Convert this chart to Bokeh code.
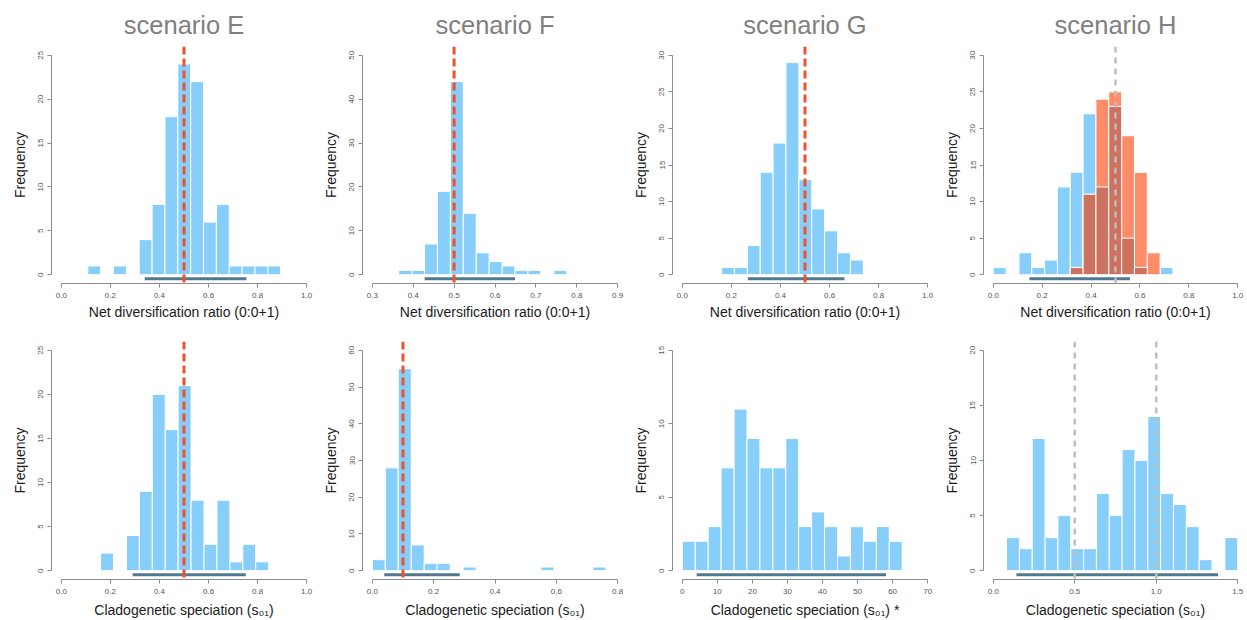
from bokeh.plotting import figure
from bokeh.layouts import gridplot
from bokeh.models import Range1d, FixedTicker, PrintfTickFormatter, Span
from bokeh.embed import file_html
from bokeh.resources import INLINE

# ---------------- data ----------------
scenarios = ["scenario E", "scenario F", "scenario G", "scenario H"]
xlabel_top = "Net diversification ratio (0:0+1)"
xlabel_bot = "Cladogenetic speciation (s\u2080\u2081)"
xlabel_bot_star = "Cladogenetic speciation (s\u2080\u2081) *"

# top row: net diversification ratio
E_top_start, E_top_width = 0.108, 0.0524
E_top_counts = [1, 0, 1, 0, 4, 8, 18, 24, 22, 6, 8, 1, 1, 1, 1]
E_top_truth = [0.5]
E_top_ci = [0.34, 0.754]

F_top_start, F_top_width = 0.3645, 0.0316
F_top_counts = [1, 1, 7, 19, 44, 14, 5, 3, 2, 1, 1, 0, 1]
F_top_truth = [0.5]
F_top_ci = [0.428, 0.649]

G_top_start, G_top_width = 0.160, 0.0525
G_top_counts = [1, 1, 4, 14, 18, 29, 13, 9, 6, 3, 2]
G_top_truth = [0.5]
G_top_ci = [0.267, 0.661]

H_top_start, H_top_width = 0.0, 0.0525
H_top_counts = [1, 0, 3, 1, 2, 12, 14, 22, 12, 23, 5, 1, 0, 1]
H_top_counts2 = [0, 0, 0, 0, 0, 0, 1, 11, 24, 25, 19, 14, 3, 0]
H_top_truth = [0.5]
H_top_ci = [0.148, 0.559]

# bottom row: cladogenetic speciation
E_bot_start, E_bot_width = 0.16, 0.0527
E_bot_counts = [2, 0, 4, 9, 20, 16, 21, 8, 3, 8, 1, 3, 1]
E_bot_truth = [0.5]
E_bot_ci = [0.291, 0.752]

F_bot_start, F_bot_width = 0.0, 0.0423
F_bot_counts = [3, 28, 55, 7, 2, 2, 0, 1, 0, 0, 0, 0, 0, 1, 0, 0, 0, 1]
F_bot_truth = [0.1]
F_bot_ci = [0.039, 0.285]

G_bot_start, G_bot_width = 0.0, 3.69
G_bot_counts = [2, 2, 3, 7, 11, 9, 7, 7, 9, 3, 4, 3, 1, 3, 2, 3, 2]
G_bot_truth = []
G_bot_ci = [4.1, 58.1]

H_bot_start, H_bot_width = 0.0814, 0.0788
H_bot_counts = [3, 2, 12, 3, 5, 2, 2, 7, 5, 11, 10, 14, 7, 6, 4, 1, 0, 3]
H_bot_truth = [0.5, 1.0]
H_bot_ci = [0.142, 1.38]

# axes
E_top_xticks = [0.0, 0.2, 0.4, 0.6, 0.8, 1.0]; E_top_yticks = [0, 5, 10, 15, 20, 25]
F_top_xticks = [0.3, 0.4, 0.5, 0.6, 0.7, 0.8, 0.9]; F_top_yticks = [0, 10, 20, 30, 40, 50]
G_top_xticks = [0.0, 0.2, 0.4, 0.6, 0.8, 1.0]; G_top_yticks = [0, 5, 10, 15, 20, 25, 30]
H_top_xticks = [0.0, 0.2, 0.4, 0.6, 0.8, 1.0]; H_top_yticks = [0, 5, 10, 15, 20, 25, 30]
E_bot_xticks = [0.0, 0.2, 0.4, 0.6, 0.8, 1.0]; E_bot_yticks = [0, 5, 10, 15, 20, 25]
F_bot_xticks = [0.0, 0.2, 0.4, 0.6, 0.8]; F_bot_yticks = [0, 10, 20, 30, 40, 50, 60]
G_bot_xticks = [0, 10, 20, 30, 40, 50, 60, 70]; G_bot_yticks = [0, 5, 10, 15]
H_bot_xticks = [0.0, 0.5, 1.0, 1.5]; H_bot_yticks = [0, 5, 10, 15, 20]

# ---------------- style ----------------
FONT = "Liberation Sans"
BLUE = "#87CEFA"
ORANGE = "#FF8C69"
BROWN = "#CC725E"
RED = "#F0502D"
GREY_TRUTH = "#BEBEBE"
CI_COL = "#4F7891"
AXIS_COL = "#8C8C8C"

# column geometry: (figure width, left border, right border)
COLS = [(319, 51, 3), (310, 43, 2), (311, 43, 3), (307, 43, 0)]
TOP_H, TOP_BT, TOP_BB = 322, 46, 38
BOT_H, BOT_BT, BOT_BB = 298, 19, 41


def panel(start, width, counts, xticks, yticks, fmt, truth, truth_col, ci,
          xlabel, title, col, row, counts2=None):
    fig_w, bl, br = COLS[col]
    fig_h, bt, bb = (TOP_H, TOP_BT, TOP_BB) if row == 0 else (BOT_H, BOT_BT, BOT_BB)
    xmin, xmax = xticks[0], xticks[-1]
    ymax = yticks[-1]
    dx = 0.04 * (xmax - xmin)
    dy = 0.04 * ymax
    p = figure(width=fig_w, height=fig_h, output_backend="svg", toolbar_location=None,
               x_range=Range1d(xmin - dx, xmax + dx), y_range=Range1d(-dy, ymax + dy),
               min_border_left=bl, min_border_right=br,
               min_border_top=bt, min_border_bottom=bb,
               title=title)
    p.outline_line_color = None
    p.grid.visible = False
    p.background_fill_color = "white"
    p.border_fill_color = "white"
    if title:
        p.title.align = "center"
        p.title.text_font = FONT
        p.title.text_font_size = "25.5px"
        p.title.text_font_style = "normal"
        p.title.text_color = "#808080"
        p.title.standoff = 16

    def bars(cnts, color):
        L, R, T = [], [], []
        for i, c in enumerate(cnts):
            if c > 0:
                L.append(start + i * width)
                R.append(start + (i + 1) * width)
                T.append(c)
        p.quad(left=L, right=R, bottom=0, top=T, fill_color=color,
               line_color="white", line_width=1)

    bars(counts, BLUE)
    if counts2 is not None:
        bars(counts2, ORANGE)
        bars([min(a, b) for a, b in zip(counts, counts2)], BROWN)

    yci = -0.018 * ymax
    p.segment(x0=[ci[0]], y0=[yci], x1=[ci[1]], y1=[yci],
              line_color=CI_COL, line_width=3)

    for t in truth:
        if truth_col == RED:
            s = Span(location=t, dimension="height", line_color=RED,
                     line_width=3, line_dash="8 4")
        else:
            s = Span(location=t, dimension="height", line_color=GREY_TRUTH,
                     line_width=2.5, line_dash="6 5")
        p.add_layout(s)

    for ax in (p.xaxis[0], p.yaxis[0]):
        ax.axis_line_color = AXIS_COL
        ax.axis_line_width = 1
        ax.major_tick_line_color = AXIS_COL
        ax.major_tick_out = 4
        ax.major_tick_in = 0
        ax.minor_tick_line_color = None
        ax.major_label_text_font = FONT
        ax.major_label_text_font_size = "8px"
        ax.major_label_text_color = "#555555"
        ax.axis_label_text_font = FONT
        ax.axis_label_text_font_size = "14px"
        ax.axis_label_text_font_style = "normal"
        ax.axis_label_text_color = "#1a1a1a"

    xa = p.xaxis[0]
    xa.bounds = (xmin, xmax)
    xa.ticker = FixedTicker(ticks=xticks)
    xa.formatter = PrintfTickFormatter(format=fmt)
    xa.axis_label = xlabel
    xa.major_label_standoff = 5
    xa.axis_label_standoff = 3 if row == 0 else 5

    ya = p.yaxis[0]
    ya.bounds = (0, ymax)
    ya.ticker = FixedTicker(ticks=yticks)
    ya.formatter = PrintfTickFormatter(format="%d")
    ya.axis_label = "Frequency"
    ya.major_label_orientation = "vertical"
    ya.major_label_standoff = 4
    ya.axis_label_standoff = 8
    return p


top = [
    panel(E_top_start, E_top_width, E_top_counts, E_top_xticks, E_top_yticks, "%.1f",
          E_top_truth, RED, E_top_ci, xlabel_top, scenarios[0], 0, 0),
    panel(F_top_start, F_top_width, F_top_counts, F_top_xticks, F_top_yticks, "%.1f",
          F_top_truth, RED, F_top_ci, xlabel_top, scenarios[1], 1, 0),
    panel(G_top_start, G_top_width, G_top_counts, G_top_xticks, G_top_yticks, "%.1f",
          G_top_truth, RED, G_top_ci, xlabel_top, scenarios[2], 2, 0),
    panel(H_top_start, H_top_width, H_top_counts, H_top_xticks, H_top_yticks, "%.1f",
          H_top_truth, GREY_TRUTH, H_top_ci, xlabel_top, scenarios[3], 3, 0,
          counts2=H_top_counts2),
]
bot = [
    panel(E_bot_start, E_bot_width, E_bot_counts, E_bot_xticks, E_bot_yticks, "%.1f",
          E_bot_truth, RED, E_bot_ci, xlabel_bot, None, 0, 1),
    panel(F_bot_start, F_bot_width, F_bot_counts, F_bot_xticks, F_bot_yticks, "%.1f",
          F_bot_truth, RED, F_bot_ci, xlabel_bot, None, 1, 1),
    panel(G_bot_start, G_bot_width, G_bot_counts, G_bot_xticks, G_bot_yticks, "%d",
          G_bot_truth, RED, G_bot_ci, xlabel_bot_star, None, 2, 1),
    panel(H_bot_start, H_bot_width, H_bot_counts, H_bot_xticks, H_bot_yticks, "%.1f",
          H_bot_truth, GREY_TRUTH, H_bot_ci, xlabel_bot, None, 3, 1),
]

grid = gridplot([top, bot], toolbar_location=None)
open("out.html", "w").write(file_html(grid, INLINE))
